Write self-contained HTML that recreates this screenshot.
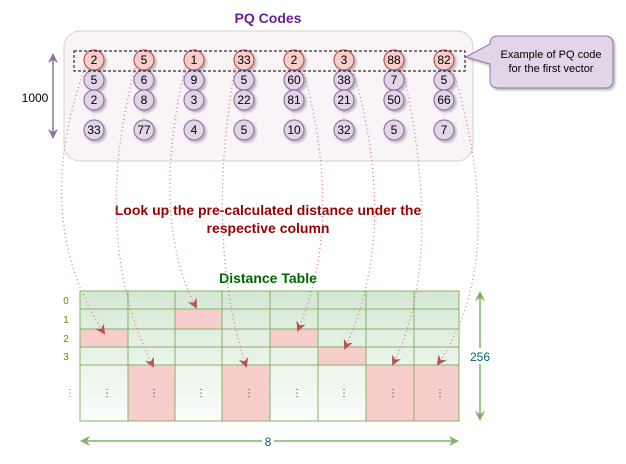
<!DOCTYPE html>
<html><head><meta charset="utf-8"><style>
body{margin:0;background:#fff;}
svg{display:block;font-family:"Comic Sans MS","Liberation Sans",sans-serif;}
</style></head><body>
<svg width="626" height="464" viewBox="0 0 626 464" xmlns="http://www.w3.org/2000/svg">
<defs>
<linearGradient id="tg" x1="0" y1="0" x2="0" y2="1">
<stop offset="0" stop-color="#d5e8d4"/><stop offset="1" stop-color="#fbfdfb"/></linearGradient>
<filter id="sh" x="-30%" y="-30%" width="160%" height="160%"><feDropShadow dx="2" dy="2" stdDeviation="1" flood-color="#000" flood-opacity="0.25"/></filter>
<marker id="ah" markerWidth="10" markerHeight="10" refX="8" refY="5" orient="auto" markerUnits="userSpaceOnUse"><path d="M0,0 L10,5 L0,10 L3,5 z" fill="#b85450"/></marker>
<marker id="ga" markerWidth="10" markerHeight="10" refX="9" refY="5" orient="auto-start-reverse" markerUnits="userSpaceOnUse"><path d="M0,0 L10,5 L0,10 L3,5 z" fill="#82b366"/></marker>
<marker id="pa" markerWidth="10" markerHeight="10" refX="9" refY="5" orient="auto-start-reverse" markerUnits="userSpaceOnUse"><path d="M0,0 L10,5 L0,10 L3,5 z" fill="#9673a6"/></marker>
</defs>
<text x="268" y="23" text-anchor="middle" font-size="14" font-weight="bold" fill="#6a1fa0">PQ Codes</text>
<rect x="64" y="31" width="409" height="130" rx="16" fill="#f8f4f8" stroke="#d8d0d0"/>
<line x1="53" y1="54" x2="53" y2="138" stroke="#9673a6" stroke-width="1.5" marker-start="url(#pa)" marker-end="url(#pa)"/>
<text x="35" y="102" text-anchor="middle" font-size="12" fill="#000">1000</text>
<g font-size="12" text-anchor="middle">
<g id="cols"></g>
</g>
<g font-size="12" text-anchor="middle" fill="#000">
<!-- columns -->
<g stroke="#c9b3d6" stroke-dasharray="1,2"><line x1="94" y1="60" x2="94" y2="130"/><line x1="144" y1="60" x2="144" y2="130"/><line x1="194" y1="60" x2="194" y2="130"/><line x1="244" y1="60" x2="244" y2="130"/><line x1="294" y1="60" x2="294" y2="130"/><line x1="344" y1="60" x2="344" y2="130"/><line x1="394" y1="60" x2="394" y2="130"/><line x1="444" y1="60" x2="444" y2="130"/></g>
<g filter="url(#sh)" stroke-width="1.2">
<g fill="#f8cecc" stroke="#b85450">
<circle cx="94" cy="60" r="10"/><circle cx="144" cy="60" r="10"/><circle cx="194" cy="60" r="10"/><circle cx="244" cy="60" r="10"/><circle cx="294" cy="60" r="10"/><circle cx="344" cy="60" r="10"/><circle cx="394" cy="60" r="10"/><circle cx="444" cy="60" r="10"/></g>
<g fill="#e1d5e7" stroke="#9673a6">
<circle cx="94" cy="80" r="10"/><circle cx="144" cy="80" r="10"/><circle cx="194" cy="80" r="10"/><circle cx="244" cy="80" r="10"/><circle cx="294" cy="80" r="10"/><circle cx="344" cy="80" r="10"/><circle cx="394" cy="80" r="10"/><circle cx="444" cy="80" r="10"/>
<circle cx="94" cy="100" r="10"/><circle cx="144" cy="100" r="10"/><circle cx="194" cy="100" r="10"/><circle cx="244" cy="100" r="10"/><circle cx="294" cy="100" r="10"/><circle cx="344" cy="100" r="10"/><circle cx="394" cy="100" r="10"/><circle cx="444" cy="100" r="10"/>
<circle cx="94" cy="130" r="10"/><circle cx="144" cy="130" r="10"/><circle cx="194" cy="130" r="10"/><circle cx="244" cy="130" r="10"/><circle cx="294" cy="130" r="10"/><circle cx="344" cy="130" r="10"/><circle cx="394" cy="130" r="10"/><circle cx="444" cy="130" r="10"/></g>
</g>
<text x="94" y="64">2</text><text x="144" y="64">5</text><text x="194" y="64">1</text><text x="244" y="64">33</text><text x="294" y="64">2</text><text x="344" y="64">3</text><text x="394" y="64">88</text><text x="444" y="64">82</text>
<text x="94" y="84">5</text><text x="144" y="84">6</text><text x="194" y="84">9</text><text x="244" y="84">5</text><text x="294" y="84">60</text><text x="344" y="84">38</text><text x="394" y="84">7</text><text x="444" y="84">5</text>
<text x="94" y="104">2</text><text x="144" y="104">8</text><text x="194" y="104">3</text><text x="244" y="104">22</text><text x="294" y="104">81</text><text x="344" y="104">21</text><text x="394" y="104">50</text><text x="444" y="104">66</text>
<text x="94" y="134">33</text><text x="144" y="134">77</text><text x="194" y="134">4</text><text x="244" y="134">5</text><text x="294" y="134">10</text><text x="344" y="134">32</text><text x="394" y="134">5</text><text x="444" y="134">7</text>
</g>
<rect x="74" y="51" width="391" height="20" fill="none" stroke="#000" stroke-dasharray="3,2"/>
<path d="M466,57 L490,44 Q490,36 498,36 L605,36 Q613,36 613,44 L613,80 Q613,88 605,88 L498,88 Q490,88 490,80 L490,64 Z" fill="#e1d5e7" stroke="#9673a6" filter="url(#sh)"/>
<text x="551" y="58" text-anchor="middle" font-size="11">Example of PQ code</text>
<text x="551" y="72" text-anchor="middle" font-size="11">for the first vector</text>
<text x="268" y="215" text-anchor="middle" font-size="14" font-weight="bold" fill="#990000">Look up the pre-calculated distance under the</text>
<text x="268" y="233" text-anchor="middle" font-size="14" font-weight="bold" fill="#990000">respective column</text>
<text x="268" y="283" text-anchor="middle" font-size="14" font-weight="bold" fill="#006600">Distance Table</text>
<rect x="80" y="291" width="379" height="130" fill="url(#tg)"/>
<g fill="#f8cecc">
<rect x="80" y="329" width="48" height="18"/><rect x="128" y="365" width="47" height="56"/><rect x="175" y="309" width="47" height="20"/><rect x="222" y="365" width="48" height="56"/><rect x="270" y="329" width="48" height="18"/><rect x="318" y="347" width="48" height="18"/><rect x="366" y="365" width="48" height="56"/><rect x="414" y="365" width="45" height="56"/></g>
<g stroke="#82b366" stroke-width="1" fill="none">
<rect x="80" y="291" width="379" height="130"/>
<line x1="80" y1="309" x2="459" y2="309"/><line x1="80" y1="329" x2="459" y2="329"/><line x1="80" y1="347" x2="459" y2="347"/><line x1="80" y1="365" x2="459" y2="365"/>
<line x1="128" y1="291" x2="128" y2="421"/><line x1="175" y1="291" x2="175" y2="421"/><line x1="222" y1="291" x2="222" y2="421"/><line x1="270" y1="291" x2="270" y2="421"/><line x1="318" y1="291" x2="318" y2="421"/><line x1="366" y1="291" x2="366" y2="421"/><line x1="414" y1="291" x2="414" y2="421"/></g>
<g font-size="10" fill="#6a8a00" text-anchor="middle"><text x="66" y="304">0</text><text x="66" y="323">1</text><text x="66" y="342">2</text><text x="66" y="360">3</text><text x="70" y="396">⋮</text></g>
<g font-size="10" fill="#660066" text-anchor="middle"><text x="107" y="396">⋮</text><text x="154" y="396">⋮</text><text x="201" y="396">⋮</text><text x="249" y="396">⋮</text><text x="297" y="396">⋮</text><text x="344" y="396">⋮</text><text x="393" y="396">⋮</text><text x="440" y="396">⋮</text></g>
<g fill="none" stroke="#d08080" stroke-width="1.3" stroke-dasharray="1,3" marker-end="url(#ah)">
<path d="M85,68 Q30,220 104,333"/>
<path d="M135,68 Q90,240 153,366"/>
<path d="M185,68 Q150,220 196,307"/>
<path d="M235,68 Q205,240 246,366"/>
<path d="M303,70 Q345,220 298,330"/>
<path d="M353,70 Q400,230 345,348"/>
<path d="M403,70 Q445,260 393,364"/>
<path d="M453,70 Q510,260 438,364"/>
</g>
<line x1="480" y1="292" x2="480" y2="420" stroke="#82b366" stroke-width="1.5" marker-start="url(#ga)" marker-end="url(#ga)"/>
<rect x="468" y="348" width="26" height="16" fill="#fff"/>
<text x="480" y="361" text-anchor="middle" font-size="12" fill="#006666">256</text>
<line x1="81" y1="441" x2="458" y2="441" stroke="#82b366" stroke-width="1.5" marker-start="url(#ga)" marker-end="url(#ga)"/>
<rect x="262" y="434" width="12" height="14" fill="#fff"/>
<text x="268" y="446" text-anchor="middle" font-size="12" fill="#006666">8</text>
</svg>
</body></html>
